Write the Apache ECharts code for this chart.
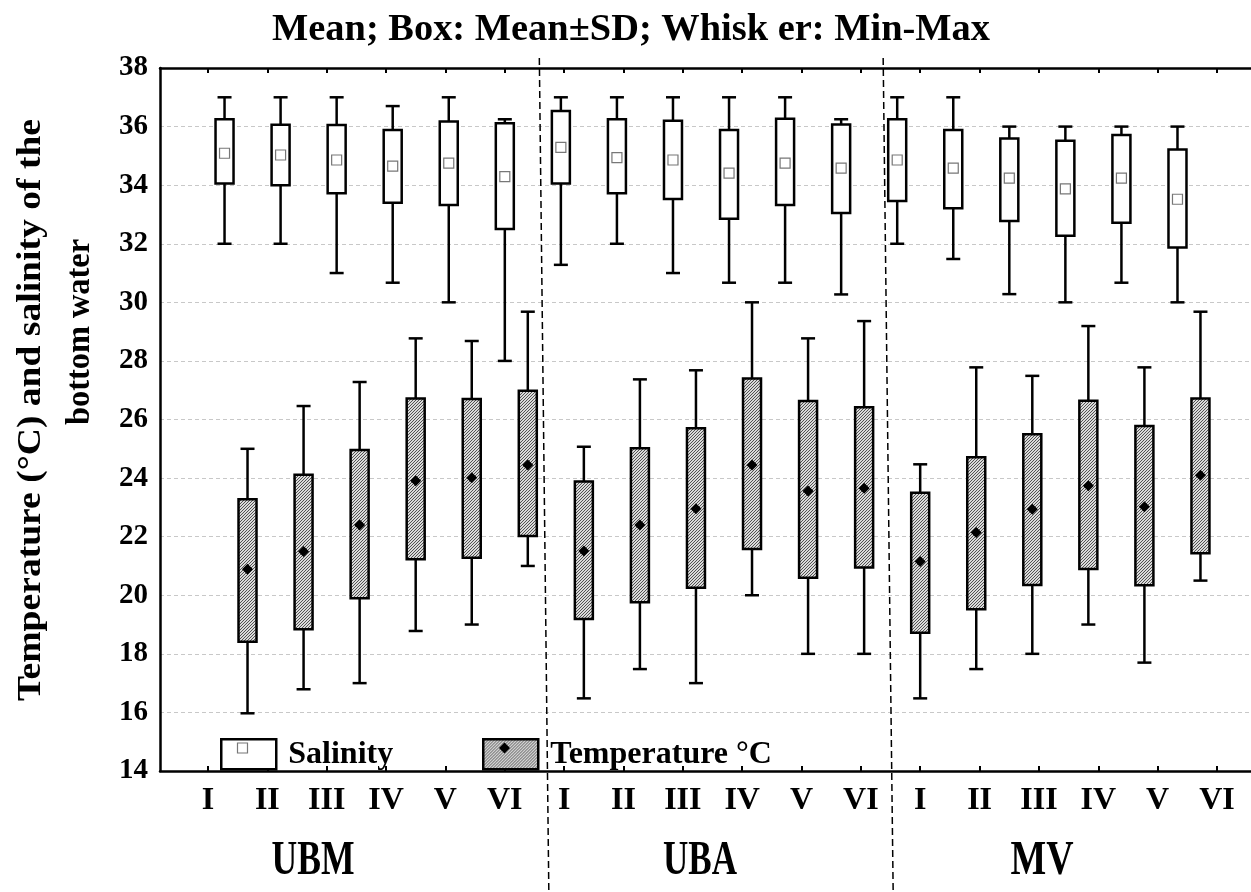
<!DOCTYPE html>
<html>
<head>
<meta charset="utf-8">
<title>Temperature and salinity of the bottom water</title>
<script src="https://cdn.jsdelivr.net/npm/echarts@6/dist/echarts.min.js"></script>
<style>
  html, body { margin: 0; padding: 0; background: #fff; }
  #chart { width: 1251px; height: 892px; }
</style>
</head>
<body>
<div id="chart"></div>
<script>
// Sites and sampling periods
const groups = ['UBM', 'UBA', 'MV'];
const stages = ['I', 'II', 'III', 'IV', 'V', 'VI'];

// Y axis range
const yMin = 14;
const yMax = 38;
const yStep = 2;

// Salinity: min, mean-SD, mean, mean+SD, max (UBM I..VI, UBA I..VI, MV I..VI)
const salMin  = [32, 32, 31, 30.67, 30, 28,   31.28, 32, 31, 30.67, 30.67, 30.27,   32, 31.48, 30.28, 30, 30.67, 30];
const salLow  = [34.06, 34.0, 33.72, 33.4, 33.32, 32.5,   34.06, 33.72, 33.53, 32.85, 33.32, 33.05,   33.46, 33.21, 32.78, 32.27, 32.72, 31.87];
const salMean = [35.09, 35.03, 34.86, 34.65, 34.75, 34.29,   35.29, 34.94, 34.86, 34.41, 34.75, 34.58,   34.86, 34.58, 34.24, 33.87, 34.24, 33.52];
const salHigh = [36.25, 36.06, 36.05, 35.88, 36.17, 36.11,   36.53, 36.25, 36.2, 35.88, 36.27, 36.07,   36.25, 35.88, 35.59, 35.52, 35.71, 35.22];
const salMax  = [37, 37, 37, 36.7, 37, 36.25,   37, 37, 37, 37, 37, 36.25,   37, 37, 36, 36, 36, 36];

// Temperature, °C: min, mean-SD, mean, mean+SD, max
const tMin  = [15.97, 16.79, 17, 18.78, 19, 21,   16.48, 17.48, 17, 20, 18, 18,   16.48, 17.48, 18, 19, 17.7, 20.5];
const tLow  = [18.41, 18.84, 19.9, 21.23, 21.28, 22.02,   19.19, 19.76, 20.26, 21.58, 20.6, 20.95,   18.72, 19.52, 20.35, 20.9, 20.34, 21.43];
const tMean = [20.89, 21.49, 22.4, 23.91, 24.01, 24.45,   21.51, 22.4, 22.95, 24.45, 23.56, 23.65,   21.15, 22.14, 22.94, 23.74, 23.02, 24.1];
const tHigh = [23.28, 24.11, 24.96, 26.72, 26.7, 26.98,   23.88, 25.02, 25.7, 27.4, 26.63, 26.42,   23.5, 24.71, 25.5, 26.64, 25.78, 26.72];
const tMax  = [25, 26.46, 27.28, 28.77, 28.68, 29.68,   25.07, 27.37, 27.68, 30, 28.77, 29.36,   24.47, 27.78, 27.49, 29.19, 27.78, 29.68];

// ---------------------------------------------------------------
const SERIF = '"Liberation Serif", "Times New Roman", serif';
const categories = [];
const tickLabels = [];
groups.forEach(g => stages.forEach(s => { categories.push(g + ' ' + s); tickLabels.push(s); }));

function rows(mn, lo, me, hi, mx) {
  return categories.map((_, i) => [i, mn[i], lo[i], me[i], hi[i], mx[i]]);
}

// hatched grey fill for temperature boxes
const hatch = document.createElement('canvas');
hatch.width = 3; hatch.height = 3;
(function () {
  const c = hatch.getContext('2d');
  c.fillStyle = '#dadada'; c.fillRect(0, 0, 3, 3);
  c.fillStyle = '#525252';
  c.fillRect(0, 2, 1, 1); c.fillRect(1, 1, 1, 1); c.fillRect(2, 0, 1, 1);
})();
const hatchFill = { image: hatch, repeat: 'repeat' };

const measureCtx = document.createElement('canvas').getContext('2d');
function fitScale(text, font, target) {
  measureCtx.font = font;
  return target / measureCtx.measureText(text).width;
}

function boxRenderer(offsetFrac, isTemp) {
  return function (params, api) {
    const i = api.value(0);
    const band = api.size([1, 0])[0];
    const cx = api.coord([i, yMin])[0] + band * offsetFrac;
    const py = k => api.coord([i, api.value(k)])[1];
    const yLo = py(1), yQ1 = py(2), yMe = py(3), yQ3 = py(4), yHi = py(5);
    const bw = 18, cw = 14;
    const ls = { stroke: '#000', lineWidth: 2.5 };
    const children = [
      { type: 'line', shape: { x1: cx, y1: yHi, x2: cx, y2: yQ3 }, style: ls },
      { type: 'line', shape: { x1: cx, y1: yQ1, x2: cx, y2: yLo }, style: ls },
      { type: 'line', shape: { x1: cx - cw / 2, y1: yHi, x2: cx + cw / 2, y2: yHi }, style: ls },
      { type: 'line', shape: { x1: cx - cw / 2, y1: yLo, x2: cx + cw / 2, y2: yLo }, style: ls },
      { type: 'rect', shape: { x: cx - bw / 2, y: yQ3, width: bw, height: yQ1 - yQ3 },
        style: { fill: isTemp ? hatchFill : '#fff', stroke: '#000', lineWidth: 2.5 } }
    ];
    if (isTemp) {
      children.push({ type: 'polygon',
        shape: { points: [[cx, yMe - 5.5], [cx + 5.5, yMe], [cx, yMe + 5.5], [cx - 5.5, yMe]] },
        style: { fill: '#000' } });
    } else {
      children.push({ type: 'rect', shape: { x: cx - 5, y: yMe - 5, width: 10, height: 10 },
        style: { fill: '#fff', stroke: '#777', lineWidth: 1.2 } });
    }
    return { type: 'group', children };
  };
}

const chart = echarts.init(document.getElementById('chart'), null, { renderer: 'canvas' });

const axisFont = { fontFamily: SERIF, fontWeight: 'bold', color: '#000' };
const frameLine = { show: true, lineStyle: { color: '#000', width: 2.5 } };

chart.setOption({
  animation: false,
  backgroundColor: '#fff',
  grid: [
    { left: 160, right: 0, top: 68, bottom: 121 },   // frame
    { left: 208, right: 34, top: 68, bottom: 121 }   // boxes and ticks
  ],
  xAxis: [
    { gridIndex: 0, type: 'value', position: 'bottom', min: 0, max: 1, axisLine: frameLine,
      axisTick: { show: false }, axisLabel: { show: false }, splitLine: { show: false } },
    { gridIndex: 0, type: 'value', position: 'top', min: 0, max: 1, axisLine: frameLine,
      axisTick: { show: false }, axisLabel: { show: false }, splitLine: { show: false } },
    { gridIndex: 1, type: 'category', position: 'bottom', data: categories, boundaryGap: true, show: false },
    { gridIndex: 1, type: 'category', position: 'bottom', data: tickLabels, boundaryGap: false,
      axisLine: { show: false },
      axisTick: { show: true, inside: true, length: 5, alignWithLabel: true, lineStyle: { color: '#000', width: 2 } },
      axisLabel: Object.assign({ fontSize: 32, margin: 14, interval: 0 }, axisFont),
      splitLine: { show: false } },
    { gridIndex: 1, type: 'category', position: 'top', data: tickLabels, boundaryGap: false,
      axisLine: { show: false },
      axisTick: { show: true, inside: true, length: 5, alignWithLabel: true, lineStyle: { color: '#000', width: 2 } },
      axisLabel: { show: false }, splitLine: { show: false } }
  ],
  yAxis: [
    { gridIndex: 0, type: 'value', min: yMin, max: yMax, interval: yStep,
      axisLine: frameLine, axisTick: { show: false },
      axisLabel: Object.assign({ fontSize: 29, margin: 12 }, axisFont),
      splitLine: { show: true, lineStyle: { color: '#c8c8c8', width: 1, type: [4, 3] } } },
    { gridIndex: 1, type: 'value', min: yMin, max: yMax, interval: yStep, show: false,
      splitLine: { show: false } }
  ],
  legend: [
    { left: 215, top: 733, itemWidth: 55, itemHeight: 30, selectedMode: false,
      textStyle: Object.assign({ fontSize: 32, padding: [0, 0, 0, 7] }, axisFont),
      data: [{ name: 'Salinity', icon: 'rect',
        itemStyle: { color: '#fff', borderColor: '#000', borderWidth: 2.5 } }] },
    { left: 477, top: 733, itemWidth: 55, itemHeight: 30, selectedMode: false,
      textStyle: Object.assign({ fontSize: 32, padding: [0, 0, 0, 7] }, axisFont),
      data: [{ name: 'Temperature °C', icon: 'rect',
        itemStyle: { color: hatchFill, borderColor: '#000', borderWidth: 2.5 } }] }
  ],
  series: [
    { name: 'Salinity', type: 'custom', xAxisIndex: 2, yAxisIndex: 1,
      encode: { x: 0, y: [1, 2, 3, 4, 5] },
      renderItem: boxRenderer(-0.205, false),
      itemStyle: { color: '#fff' },
      data: rows(salMin, salLow, salMean, salHigh, salMax) },
    { name: 'Temperature °C', type: 'custom', xAxisIndex: 2, yAxisIndex: 1,
      encode: { x: 0, y: [1, 2, 3, 4, 5] },
      renderItem: boxRenderer(0.205, true),
      itemStyle: { color: '#aaa' },
      data: rows(tMin, tLow, tMean, tHigh, tMax) }
  ]
});

// Texts, legend markers and site separators
(function () {
  const g = [];
  const titleText = 'Mean; Box: Mean±SD; Whisk er: Min-Max';
  const titleFont = 'bold 38px ' + SERIF;
  g.push({ type: 'text', x: 631, y: 30, scaleX: fitScale(titleText, titleFont, 718), silent: true,
    style: { text: titleText, font: titleFont, fill: '#000', align: 'center', verticalAlign: 'middle' } });

  const yt1 = 'Temperature (°C) and salinity of the';
  const yt2 = 'bottom water';
  const ytFont = 'bold 34px ' + SERIF;
  g.push({ type: 'text', x: 31, y: 410, rotation: Math.PI / 2, scaleX: fitScale(yt1, ytFont, 582), silent: true,
    style: { text: yt1, font: ytFont, fill: '#000', align: 'center', verticalAlign: 'middle' } });
  g.push({ type: 'text', x: 80, y: 332, rotation: Math.PI / 2, scaleX: fitScale(yt2, ytFont, 186), silent: true,
    style: { text: yt2, font: ytFont, fill: '#000', align: 'center', verticalAlign: 'middle' } });

  const grpFont = 'bold 48px ' + SERIF;
  const grpPos = [313, 700, 1042];
  const grpW = [83, 74, 63];
  groups.forEach((name, k) => {
    g.push({ type: 'text', x: grpPos[k], y: 862, scaleX: fitScale(name, grpFont, grpW[k]), silent: true,
      style: { text: name, font: grpFont, fill: '#000', align: 'center', verticalAlign: 'middle' } });
  });

  // markers inside legend keys
  g.push({ type: 'rect', shape: { x: 237.5, y: 743, width: 10, height: 10 }, z: 200, silent: true,
    style: { fill: '#fff', stroke: '#777', lineWidth: 1.2 } });
  g.push({ type: 'polygon', z: 200, silent: true,
    shape: { points: [[504.5, 742.5], [510, 748], [504.5, 753.5], [499, 748]] }, style: { fill: '#000' } });

  // dashed separators between sites
  const c5 = chart.convertToPixel({ xAxisIndex: 2 }, categories[5]);
  const c6 = chart.convertToPixel({ xAxisIndex: 2 }, categories[6]);
  const c11 = chart.convertToPixel({ xAxisIndex: 2 }, categories[11]);
  const c12 = chart.convertToPixel({ xAxisIndex: 2 }, categories[12]);
  const b1 = (c5 + c6) / 2, b2 = (c11 + c12) / 2;
  const dash = { stroke: '#000', lineWidth: 1.5, lineDash: [7, 4] };
  g.push({ type: 'line', silent: true, z: 50, shape: { x1: b1 - 5, y1: 58, x2: b1 + 4.5, y2: 892 }, style: dash });
  g.push({ type: 'line', silent: true, z: 50, shape: { x1: b2 + 2.5, y1: 58, x2: b2 + 12.5, y2: 892 }, style: dash });

  chart.setOption({ graphic: g });
})();
</script>
</body>
</html>
